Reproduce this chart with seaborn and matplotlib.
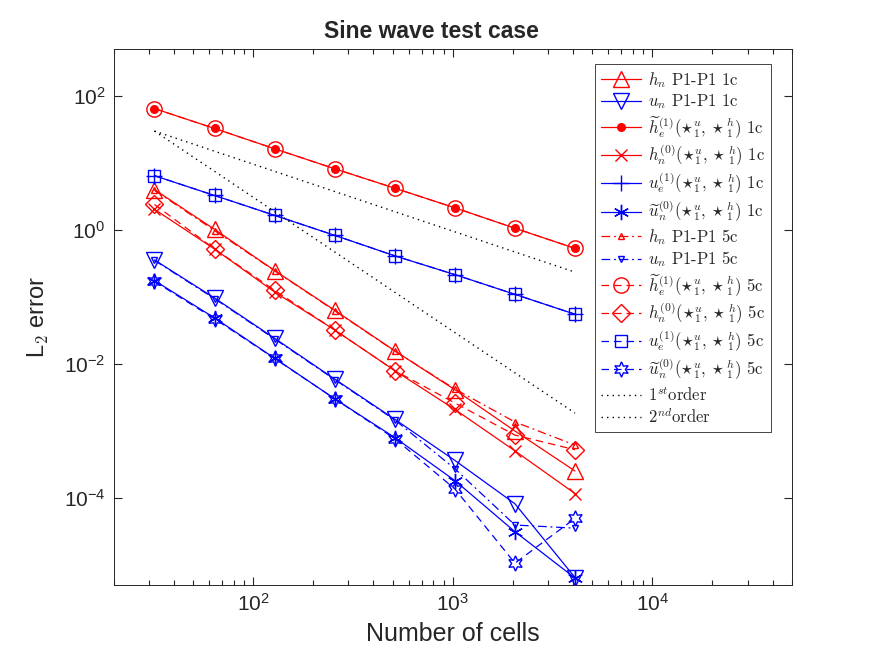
import matplotlib
matplotlib.use("Agg")
import matplotlib.pyplot as plt
from matplotlib.ticker import LogLocator, NullLocator
import seaborn as sns
import numpy as np

# Sine wave test case: L2 error vs number of cells
cells = [32, 64, 128, 256, 512, 1024, 2048, 4096]

h_p1_1c = [4.0, 1.02, 0.247, 0.063, 0.0156, 4.1e-3, 9.9e-4, 2.5e-4]
u_p1_1c = [0.356, 0.096, 0.024, 5.9e-3, 1.48e-3, 3.6e-4, 8.1e-5, 6.4e-6]
he1_1c = [65, 32.8, 16.3, 8.2, 4.2, 2.14, 1.06, 0.53]
hn0_1c = [2.03, 0.518, 0.118, 0.032, 7.9e-3, 2.08e-3, 5.0e-4, 1.15e-4]
ue1_1c = [6.46, 3.27, 1.65, 0.83, 0.41, 0.215, 0.109, 0.055]
un0_1c = [0.175, 0.0485, 0.0121, 3.0e-3, 7.9e-4, 1.8e-4, 3.1e-5, 6.3e-6]

h_p1_5c = [3.9, 0.98, 0.245, 0.062, 0.0155, 4.2e-3, 1.35e-3, 6.1e-4]
u_p1_5c = [0.35, 0.094, 0.0235, 5.8e-3, 1.45e-3, 2.7e-4, 3.9e-5, 3.5e-5]
he1_5c = [65, 32.8, 16.3, 8.2, 4.2, 2.14, 1.06, 0.53]
hn0_5c = [2.4, 0.52, 0.125, 0.032, 7.9e-3, 2.6e-3, 8.6e-4, 5.2e-4]
ue1_5c = [6.46, 3.27, 1.65, 0.83, 0.41, 0.215, 0.109, 0.055]
un0_5c = [0.17, 0.047, 0.012, 3.0e-3, 7.6e-4, 1.35e-4, 1.05e-5, 4.9e-5]

ref_cells = [32, 4096]
first_order = [30, 0.234]
second_order = [30, 1.83e-3]

star = r"(\star_1^u,\star_1^h)"
labels = [
    r"$h_n$ P1-P1 1c",
    r"$u_n$ P1-P1 1c",
    r"$\widetilde{h}_e^{(1)}" + star + "$ 1c",
    r"$h_n^{(0)}" + star + "$ 1c",
    r"$u_e^{(1)}" + star + "$ 1c",
    r"$\widetilde{u}_n^{(0)}" + star + "$ 1c",
    r"$h_n$ P1-P1 5c",
    r"$u_n$ P1-P1 5c",
    r"$\widetilde{h}_e^{(1)}" + star + "$ 5c",
    r"$h_n^{(0)}" + star + "$ 5c",
    r"$u_e^{(1)}" + star + "$ 5c",
    r"$\widetilde{u}_n^{(0)}" + star + "$ 5c",
    r"$1^{st}$order",
    r"$2^{nd}$order",
]

sns.set_style("white")
plt.rcParams["font.family"] = ["Liberation Sans", "DejaVu Sans"]
plt.rcParams["mathtext.fontset"] = "cm"

fig = plt.figure(figsize=(8.75, 6.57), dpi=100)
ax = fig.add_axes([0.13, 0.11, 0.775, 0.815])

red = (1, 0, 0)
blue = (0, 0, 1)
lw = 0.9
dash = (0, (6, 4))
dashdot = (0, (7, 3, 1.5, 3))

# (data, color, marker, size, filled, linestyle)
series = [
    (h_p1_1c, red, "^", 11, False, "-"),
    (u_p1_1c, blue, "v", 11, False, "-"),
    (he1_1c, red, "o", 5.5, True, "-"),
    (hn0_1c, red, "x", 9, False, "-"),
    (ue1_1c, blue, "+", 12, False, "-"),
    (un0_1c, blue, (6, 2, 0), 11, False, "-"),
    (h_p1_5c, red, "^", 5, False, dashdot),
    (u_p1_5c, blue, "v", 5, False, dashdot),
    (he1_5c, red, "o", 11, False, dash),
    (hn0_5c, red, "D", 9, False, dash),
    (ue1_5c, blue, "s", 8, False, dash),
    (un0_5c, blue, (6, 1, 0), 11, False, dash),
]

for (vals, col, mk, ms, filled, ls), lab in zip(series, labels[:12]):
    sns.lineplot(x=cells, y=vals, ax=ax, color=col, marker=mk, markersize=ms,
                 markerfacecolor=col if filled else "none", markeredgecolor=col,
                 markeredgewidth=1.0, linestyle=ls, linewidth=lw, label=lab)

sns.lineplot(x=ref_cells, y=first_order, ax=ax, color="black", linestyle=(0, (1, 3)),
             linewidth=1.0, label=labels[12])
sns.lineplot(x=ref_cells, y=second_order, ax=ax, color="black", linestyle=(0, (1, 3)),
             linewidth=1.0, label=labels[13])

ax.set_xscale("log")
ax.set_yscale("log")
ax.set_xlim(20, 5e4)
ax.set_ylim(5e-6, 500)
ax.set_yticks([1e-4, 1e-2, 1e0, 1e2])
ax.set_xticks([1e2, 1e3, 1e4])
ax.xaxis.set_minor_locator(LogLocator(base=10, subs=np.arange(2, 10), numticks=20))
ax.yaxis.set_minor_locator(NullLocator())
ax.xaxis.set_ticks_position("both")
ax.yaxis.set_ticks_position("both")

ax.tick_params(which="both", direction="in", colors="0.15",
               labelsize=15, labelcolor="0.15")
ax.tick_params(which="major", length=6, width=0.8, pad=6)
ax.tick_params(axis="x", which="minor", length=3.5, width=0.8)
for sp in ax.spines.values():
    sp.set_color("0.15")
    sp.set_linewidth(0.7)

ax.set_title("Sine wave test case", fontsize=16.5, fontweight="bold", pad=8, x=0.468)
ax.set_xlabel("Number of cells", fontsize=18, color="0.15", labelpad=5)
ax.set_ylabel(r"L$_2$ error", fontsize=17, color="0.15", labelpad=9)

leg = ax.legend(loc="upper right", bbox_to_anchor=(0.969, 0.972), borderaxespad=0,
                prop={"family": "cmr10", "size": 12}, fancybox=False, framealpha=1,
                edgecolor="0.15", labelspacing=0.16, handlelength=2.4,
                handletextpad=0.4, borderpad=0.35)
leg.get_frame().set_linewidth(0.6)

fig.savefig("out.png", dpi=100)
